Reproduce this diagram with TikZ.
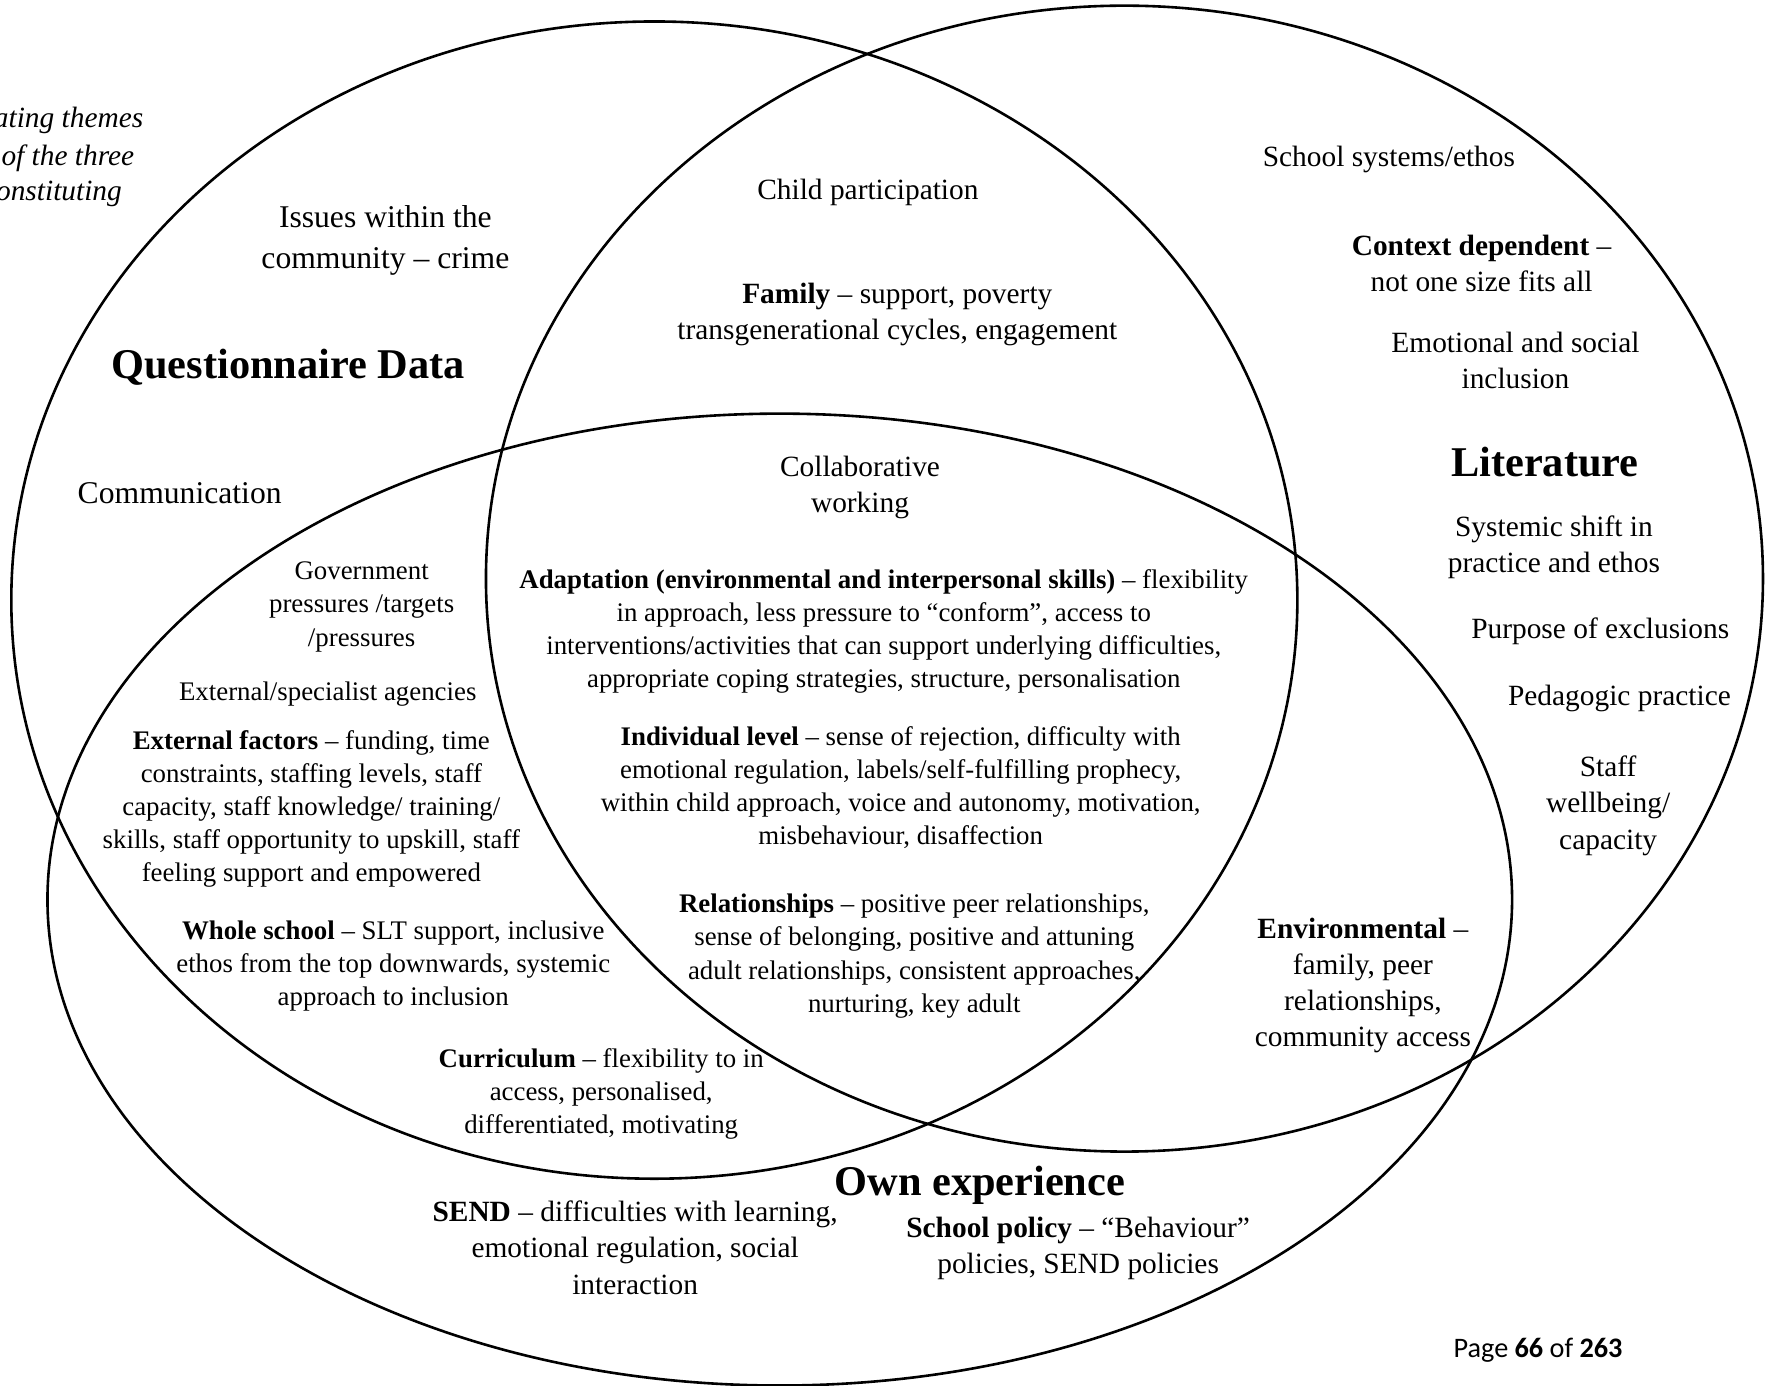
\documentclass[tikz,border=0pt]{standalone}
\usepackage{fontspec}
\setmainfont{Liberation Serif}
\newfontfamily\calibrifont{Carlito}
\begin{document}
\begin{tikzpicture}[x=1pt,y=-1pt,
  venn/.style={line width=2.3pt},
  txtA/.style={font=\fontsize{26}{32}\selectfont, align=center, inner sep=0pt},
  txtB/.style={font=\fontsize{23.75}{29.3}\selectfont, align=center, inner sep=0pt},
  txtC/.style={font=\fontsize{28}{36}\selectfont, align=center, inner sep=0pt},
  txtI/.style={font=\fontsize{26}{32.5}\selectfont\itshape, inner sep=0pt, anchor=east},
  vtitle/.style={font=\fontsize{37.5}{45}\selectfont\bfseries, inner sep=0pt},
  pagenum/.style={font=\fontsize{25}{30}\selectfont\calibrifont, inner sep=0pt}]
\useasboundingbox (0,0) rectangle (1568,1226);
% the three sets
\draw[venn] (579,531) ellipse [x radius=569pt, y radius=512pt];
\draw[venn] (995,512) ellipse [x radius=565pt, y radius=507pt];
\draw[venn] (690,796) ellipse [x radius=648pt, y radius=430pt];
\begin{scope}[shift={(0,3)}]
% cut-off caption
\node[txtI] (cap1) at (127,104) {ating themes};
\node[txtI] (cap2) at (119,137) {of the three};
\node[txtI] (cap3) at (108,169) {onstituting};
% questionnaire only
\node[txtC] (issues) at (341,210) {Issues within the\\community – crime};
\node[vtitle] (qtitle) at (255,322) {Questionnaire Data};
\node[txtC] (comm) at (159,433) {Communication};
% questionnaire & literature
\node[txtA] (child) at (768,167) {Child participation};
\node[txtA] (family) at (794,275) {\textbf{Family} – support, poverty\\transgenerational cycles, engagement};
% literature only
\node[txtA] (systems) at (1229,138) {School systems/ethos};
\node[txtA] (context) at (1311,230) {\textbf{Context dependent} –\\not one size fits all};
\node[txtA] (emotional) at (1341,316) {Emotional and social\\inclusion};
\node[vtitle] (ltitle) at (1367,406) {Literature};
\node[txtA] (systemic) at (1375,481) {Systemic shift in\\practice and ethos};
\node[txtA] (purpose) at (1416,556) {Purpose of exclusions};
\node[txtA] (pedagogic) at (1433,615) {Pedagogic practice};
\node[txtA] (staff) at (1423,710) {Staff\\wellbeing/\\capacity};
% all three
\node[txtA] (collab) at (761,428) {Collaborative\\working};
\node[txtB] (adapt) at (782,556) {\textbf{Adaptation (environmental and interpersonal skills)} – flexibility\\in approach, less pressure to “conform”, access to\\interventions/activities that can support underlying difficulties,\\appropriate coping strategies, structure, personalisation};
\node[txtB] (individual) at (797,694) {\textbf{Individual level} – sense of rejection, difficulty with\\emotional regulation, labels/self-fulfilling prophecy,\\within child approach, voice and autonomy, motivation,\\misbehaviour, disaffection};
\node[txtB] (relation) at (809,843) {\textbf{Relationships} – positive peer relationships,\\sense of belonging, positive and attuning\\adult relationships, consistent approaches,\\nurturing, key adult};
% questionnaire & own experience
\node[txtB] (govt) at (320,534) {Government\\pressures /targets\\/pressures};
\node[txtB] (agencies) at (290,611) {External/specialist agencies};
\node[txtB] (external) at (275.5,713) {\textbf{External factors} – funding, time\\constraints, staffing levels, staff\\capacity, staff knowledge/ training/\\skills, staff opportunity to upskill, staff\\feeling support and empowered};
\node[txtB] (whole) at (348,852) {\textbf{Whole school} – SLT support, inclusive\\ethos from the top downwards, systemic\\approach to inclusion};
\node[txtB] (curric) at (532,965) {\textbf{Curriculum} – flexibility to in\\access, personalised,\\differentiated, motivating};
% literature & own experience
\node[txtA] (environ) at (1206,869) {\textbf{Environmental} –\\family, peer\\relationships,\\community access};
% own experience only
\node[vtitle] (otitle) at (867,1046) {Own experience};
\node[txtA] (send) at (562,1101) {\textbf{SEND} – difficulties with learning,\\emotional regulation, social\\interaction};
\node[txtA] (policy) at (954,1102) {\textbf{School policy} – “Behaviour”\\policies, SEND policies};
% page number
\node[pagenum] (page) at (1361,1192) {Page \textbf{66} of \textbf{263}};
\end{scope}
\end{tikzpicture}
\end{document}
